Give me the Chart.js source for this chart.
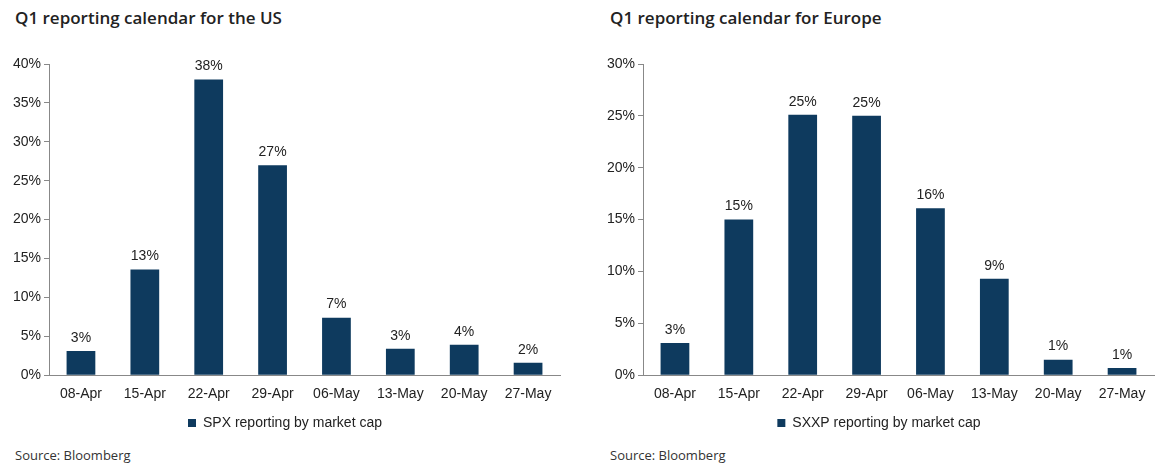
<!DOCTYPE html>
<html>
<head>
<meta charset="utf-8">
<script src="https://cdn.jsdelivr.net/npm/chart.js@4"></script>
<style>
  body { margin: 0; background: #fff; width: 1172px; height: 468px; position: relative; font-family: "Liberation Sans", Arial, sans-serif; }
  .titulo { position: absolute; top: 6px; font: 600 17px "Open Sans", sans-serif; color: #222; }
  .fuente { position: absolute; top: 446px; font: 13px "Open Sans", sans-serif; color: #333; }
  .caja { position: absolute; top: 50px; width: 580px; height: 390px; }
</style>
</head>
<body>
<div class="titulo" style="left:15px">Q1 reporting calendar for the US</div>
<div class="titulo" style="left:610px">Q1 reporting calendar for Europe</div>
<div class="caja" style="left:0"><canvas id="us"></canvas></div>
<div class="caja" style="left:594px"><canvas id="eu"></canvas></div>
<div class="fuente" style="left:15px">Source: Bloomberg</div>
<div class="fuente" style="left:610px">Source: Bloomberg</div>
<script>
const semanas = ["08-Apr", "15-Apr", "22-Apr", "29-Apr", "06-May", "13-May", "20-May", "27-May"];
const valoresUS = [3.1, 13.6, 38, 27, 7.4, 3.4, 3.9, 1.6];
const etiquetasUS = ["3%", "13%", "38%", "27%", "7%", "3%", "4%", "2%"];
const valoresEU = [3.1, 15, 25.1, 25, 16.1, 9.3, 1.5, 0.7];
const etiquetasEU = ["3%", "15%", "25%", "25%", "16%", "9%", "1%", "1%"];

const etiquetasPlugin = {
  id: "etiquetas",
  afterDatasetsDraw(chart, args, opts) {
    const ctx = chart.ctx;
    ctx.save();
    ctx.font = "14px 'Liberation Sans', Arial";
    ctx.fillStyle = "#222";
    ctx.textAlign = "center";
    ctx.textBaseline = "bottom";
    chart.getDatasetMeta(0).data.forEach((bar, i) => {
      ctx.fillText(opts.textos[i], bar.x, bar.y - 6);
    });
    ctx.restore();
  }
};

function crear(id, valores, textos, max, leyenda, izq) {
  new Chart(document.getElementById(id), {
    type: "bar",
    data: {
      labels: semanas,
      datasets: [{ label: leyenda, data: valores, backgroundColor: "#0e3a5e", barPercentage: 0.45, categoryPercentage: 1 }]
    },
    plugins: [etiquetasPlugin],
    options: {
      responsive: true,
      maintainAspectRatio: false,
      animation: false,
      layout: { padding: { left: izq, right: 20, top: 14 } },
      plugins: {
        etiquetas: { textos },
        tooltip: { enabled: false },
        legend: {
          position: "bottom",
          labels: { boxWidth: 8, boxHeight: 8, color: "#222", font: { size: 14, family: "'Liberation Sans', Arial" } }
        }
      },
      scales: {
        x: {
          grid: { display: false },
          border: { color: "#888" },
          ticks: { color: "#222", font: { size: 14, family: "'Liberation Sans', Arial" }, maxRotation: 0 }
        },
        y: {
          min: 0, max: max,
          grid: { drawOnChartArea: false, tickLength: 5, color: "#888" },
          border: { color: "#888" },
          ticks: { stepSize: 5, color: "#222", callback: v => v + "%", font: { size: 14, family: "'Liberation Sans', Arial" } }
        }
      }
    }
  });
}

crear("us", valoresUS, etiquetasUS, 40, "SPX reporting by market cap", 10);
crear("eu", valoresEU, etiquetasEU, 30, "SXXP reporting by market cap", 10);
</script>
</body>
</html>
